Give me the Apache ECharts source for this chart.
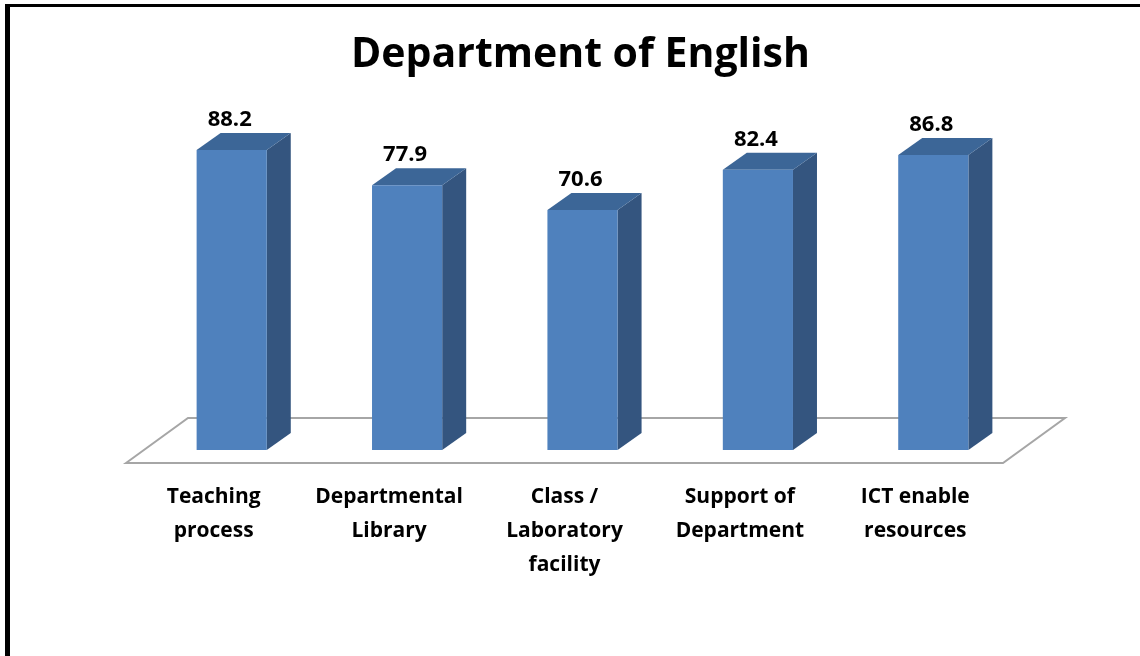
<!DOCTYPE html>
<html>
<head>
<meta charset="utf-8">
<script src="https://cdn.jsdelivr.net/npm/echarts@6/dist/echarts.min.js"></script>
<style>
  html, body { margin: 0; padding: 0; background: #fff; }
  #chart { width: 1140px; height: 656px; }
</style>
</head>
<body>
<div id="chart"></div>
<script>
// data
const categories = [
  'Teaching\nprocess',
  'Departmental\nLibrary',
  'Class /\nLaboratory\nfacility',
  'Support of\nDepartment',
  'ICT enable\nresources'
]
const scores = [88.2, 77.9, 70.6, 82.4, 86.8]

// 3d look
const FONT = '"Open Sans", "DejaVu Sans", sans-serif'
const DEPTH_X = 24
const DEPTH_Y = -17
const BAR_SHIFT_X = 18 // bars sit a bit behind the floor front edge
const FLOOR_FRONT_Y = 13
const FLOOR_BACK_X = 62
const FLOOR_BACK_Y = -45

const chart = echarts.init(document.getElementById('chart'))

function renderBar(params, api) {
  const idx = api.value(0)
  const val = api.value(1)
  const top = api.coord([idx, val])
  const base = api.coord([idx, 0])
  const bw = api.size([1, 0])[0] * 0.4
  const x0 = top[0] - bw / 2 + BAR_SHIFT_X
  const x1 = x0 + bw
  const yT = top[1]
  const yB = base[1]
  return {
    type: 'group',
    children: [
      {
        type: 'polygon',
        shape: { points: [[x1, yT], [x1 + DEPTH_X, yT + DEPTH_Y], [x1 + DEPTH_X, yB + DEPTH_Y], [x1, yB]] },
        style: { fill: '#34557F' }
      },
      {
        type: 'polygon',
        shape: { points: [[x0, yT], [x0 + DEPTH_X, yT + DEPTH_Y], [x1 + DEPTH_X, yT + DEPTH_Y], [x1, yT]] },
        style: { fill: '#3C6697' }
      },
      {
        type: 'rect',
        shape: { x: x0, y: yT, width: bw, height: yB - yT },
        style: { fill: '#4F81BD' }
      },
      {
        type: 'text',
        style: {
          x: (x0 + x1) / 2 - 2,
          y: yT - 30,
          text: String(val),
          fill: '#000',
          font: 'bold 22px ' + FONT,
          align: 'center',
          verticalAlign: 'middle'
        }
      }
    ]
  }
}

function renderFloor(params, api) {
  const first = api.coord([0, 0])
  const last = api.coord([categories.length - 1, 0])
  const band = api.size([1, 0])[0]
  const xl = first[0] - band / 2
  const xr = last[0] + band / 2
  const yf = first[1] + FLOOR_FRONT_Y
  return {
    type: 'polygon',
    shape: {
      points: [
        [xl, yf],
        [xl + FLOOR_BACK_X, yf + FLOOR_BACK_Y],
        [xr + FLOOR_BACK_X, yf + FLOOR_BACK_Y],
        [xr, yf]
      ]
    },
    style: { fill: '#fff', stroke: '#A6A6A6', lineWidth: 2 }
  }
}

const option = {
  backgroundColor: '#fff',
  animation: false,
  title: {
    text: 'Department of English',
    left: 346,
    top: 30,
    textStyle: { fontFamily: FONT, fontWeight: 'bold', fontSize: 41, color: '#000' }
  },
  grid: { left: 126, right: 137, top: 110, bottom: 206 },
  xAxis: {
    type: 'category',
    data: categories,
    axisLine: { show: false },
    axisTick: { show: false },
    axisLabel: {
      interval: 0,
      margin: 30,
      color: '#000',
      fontFamily: FONT,
      fontWeight: 'bold',
      fontSize: 21,
      lineHeight: 34
    }
  },
  yAxis: {
    type: 'value',
    min: 0,
    max: 100,
    show: false,
    splitLine: { show: false }
  },
  graphic: [
    { type: 'rect', left: 5, top: 4, shape: { width: 5, height: 652 }, style: { fill: '#000' } },
    { type: 'rect', left: 5, top: 4, shape: { width: 1135, height: 3 }, style: { fill: '#000' } }
  ],
  series: [
    {
      type: 'custom',
      renderItem: renderFloor,
      data: [[0, 0]],
      z: 1
    },
    {
      type: 'custom',
      renderItem: renderBar,
      data: scores.map((v, i) => [i, v]),
      z: 2
    }
  ]
}

chart.setOption(option)
</script>
</body>
</html>
